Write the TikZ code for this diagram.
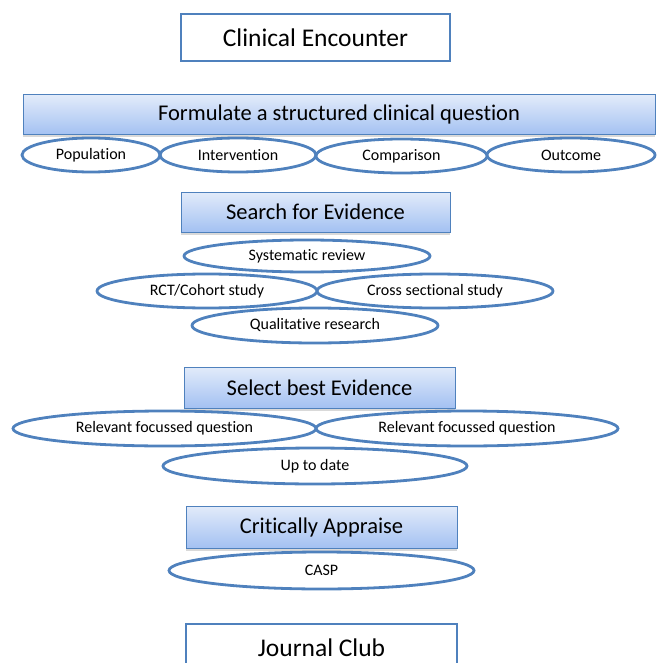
\documentclass[tikz,border=0pt]{standalone}
\usepackage{fontspec}
\setmainfont{Carlito}[Ligatures=NoCommon]
\usetikzlibrary{shapes.geometric,shadows}

\definecolor{edgeblue}{HTML}{4F81BD}
\definecolor{shadetop}{HTML}{E2EBFA}
\definecolor{shadebot}{HTML}{A3C1F2}

\tikzset{
    endbox/.style={draw=edgeblue, line width=2.8pt, fill=white, inner sep=0pt,
        font=\fontsize{25.5}{28}\selectfont},
    stagebox/.style={draw=edgeblue, line width=1pt, top color=shadetop,
        bottom color=shadebot, inner sep=0pt,
        drop shadow={shadow xshift=0pt, shadow yshift=-2.5pt, opacity=0.3},
        font=\fontsize{22.5}{25}\selectfont},
    facet/.style={ellipse, draw=edgeblue, line width=2.8pt, inner sep=0pt,
        minimum height=34pt, font=\fontsize{16}{18}\selectfont}
}

\begin{document}
\begin{tikzpicture}[x=1pt,y=-1pt]
    \clip (0,0) rectangle (660,663);

    % Start
    \node [endbox, minimum width=269pt, minimum height=47pt] (encounter)
        at (315.5,37.5) {Clinical Encounter};

    % Question
    \node [stagebox, minimum width=632pt, minimum height=40pt] (formulate)
        at (339,115) {Formulate a structured clinical question};
    \node [facet, minimum width=138pt] (pop) at (91,155) {Population};
    \node [facet, minimum width=156pt] (interv) at (238,155) {Intervention};
    \node [facet, minimum width=171pt] (compar) at (401.5,156) {Comparison};
    \node [facet, minimum width=168pt] (outcome) at (571,155) {Outcome};

    % Search
    \node [stagebox, minimum width=269pt, minimum height=40pt] (search)
        at (315.5,212) {Search for Evidence};
    \node [facet, minimum width=246pt, minimum height=32pt] (sysrev)
        at (307,256) {Systematic review};
    \node [facet, minimum width=220pt] (rct) at (207,291) {RCT/Cohort study};
    \node [facet, minimum width=236pt] (cross) at (435,291) {Cross sectional study};
    \node [facet, minimum width=246pt, minimum height=35pt] (qual)
        at (315,325.5) {Qualitative research};

    % Select
    \node [stagebox, minimum width=271pt, minimum height=41pt] (select)
        at (319.5,387.5) {Select best Evidence};
    \node [facet, minimum width=303pt, minimum height=35pt] (relev1)
        at (164.5,428.5) {Relevant focussed question};
    \node [facet, minimum width=302pt, minimum height=35pt] (relev2)
        at (467,428.5) {Relevant focussed question};
    \node [facet, minimum width=304pt, minimum height=36pt] (uptodate)
        at (315,466) {Up to date};

    % Appraise
    \node [stagebox, minimum width=271pt, minimum height=42pt] (appraise)
        at (321.5,527) {Critically Appraise};
    \node [facet, minimum width=305pt, minimum height=37pt] (casp)
        at (321.5,570.5) {CASP};

    % End
    \node [endbox, minimum width=271pt, minimum height=47pt] (club)
        at (321.5,647.5) {Journal Club};
\end{tikzpicture}
\end{document}
